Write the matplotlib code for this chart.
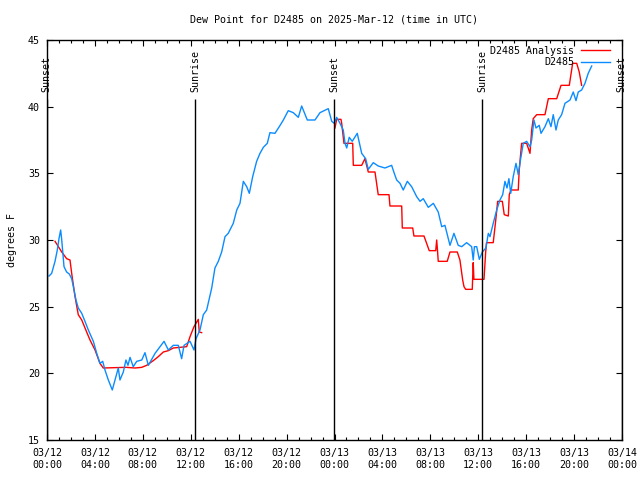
import pandas as pd
import matplotlib
matplotlib.use('Agg')
import matplotlib.pyplot as plt
import matplotlib.dates as mdates
import numpy as np

plt.rcParams['font.family'] = 'DejaVu Sans Mono'
plt.rcParams['font.size'] = 7.2

# hours after 2025-03-12 00:00 UTC, dew point in F
obs_hours = [0.17, 0.39, 0.67, 0.86, 1.00, 1.14, 1.23, 1.42, 1.64, 1.86, 2.06, 2.20, 2.42,
             2.61, 2.90, 3.17, 3.45, 3.87, 4.15, 4.42, 4.65, 4.84, 5.12, 5.45, 5.68, 5.95,
             6.09, 6.37, 6.59, 6.76, 6.93, 7.20, 7.49, 7.91, 8.18, 8.46, 9.02, 9.77, 10.13,
             10.54, 10.96, 11.24, 11.44, 11.94, 12.27, 12.44, 12.77, 13.05, 13.33, 13.75,
             14.02, 14.30, 14.58, 14.86, 15.13, 15.55, 15.84, 16.11, 16.39, 16.67, 16.89,
             17.17, 17.50, 17.78, 18.06, 18.39, 18.61, 19.03, 19.39, 19.73, 20.14, 20.56,
             20.98, 21.26, 21.73, 22.37, 22.79, 23.48, 23.77, 23.98, 24.18, 24.46, 24.73,
             24.88, 25.02, 25.23, 25.48, 25.90, 26.27, 26.60, 26.82, 27.24, 27.65, 28.21,
             28.77, 28.97, 29.19, 29.47, 29.74, 30.08, 30.44, 30.86, 31.14, 31.41, 31.83,
             32.25, 32.66, 32.95, 33.22, 33.64, 33.97, 34.33, 34.62, 35.03, 35.45, 35.58,
             35.68, 35.87, 36.09, 36.34, 36.64, 36.84, 36.98, 37.25, 37.54, 37.81, 38.04,
             38.23, 38.40, 38.56, 38.71, 38.92, 39.15, 39.34, 39.54, 39.76, 40.04, 40.32,
             40.46, 40.65, 40.82, 41.09, 41.24, 41.57, 41.85, 42.07, 42.26, 42.49, 42.68,
             42.96, 43.24, 43.66, 43.93, 44.16, 44.35, 44.63, 44.91, 45.18, 45.47]
obs_dewpt = [27.3, 27.5, 28.4, 29.25, 30.1, 30.75, 30.0, 28.0, 27.6, 27.45, 27.1, 26.5, 25.5,
             24.9, 24.5, 23.9, 23.25, 22.4, 21.5, 20.75, 20.9, 20.25, 19.5, 18.75, 19.5, 20.4,
             19.5, 20.1, 21.0, 20.6, 21.2, 20.5, 20.9, 21.0, 21.55, 20.6, 21.5, 22.4, 21.75,
             22.1, 22.1, 21.1, 22.1, 22.4, 21.75, 22.6, 23.25, 24.4, 24.75, 26.4,
             27.9, 28.4, 29.1, 30.25, 30.5, 31.25, 32.25, 32.75, 34.4, 34.0, 33.5,
             34.75, 35.9, 36.5, 36.95, 37.25, 38.05, 38.0, 38.5, 39.0, 39.7, 39.55,
             39.2, 40.05, 39.0, 39.0, 39.55, 39.85, 38.9, 38.75, 39.2, 38.75, 38.25,
             37.25, 36.9, 37.7, 37.4, 38.0, 36.5, 36.1, 35.3, 35.8, 35.55, 35.4,
             35.6, 35.05, 34.5, 34.25, 33.75, 34.4, 34.0, 33.25, 32.9, 33.1, 32.45,
             32.75, 32.1, 31.0, 31.1, 29.6, 30.5, 29.6, 29.5, 29.8, 29.5, 28.5,
             29.5, 29.5, 28.55, 29.1, 29.4, 30.5, 30.25, 31.25, 32.25, 33.0, 33.4,
             34.4, 33.9, 34.6, 33.5, 34.75, 35.75, 34.9, 36.1, 37.25, 37.4, 37.0,
             37.5, 39.0, 38.4, 38.6, 38.0, 38.5, 39.1, 38.5, 39.4, 38.25, 39.0,
             39.4, 40.25, 40.5, 41.1, 40.45, 41.1, 41.25, 41.75, 42.5, 43.05]

ana_hours = [0.67, 1.23, 1.64, 1.92, 2.06, 2.34, 2.61, 2.90, 3.31, 3.59, 4.01, 4.42, 4.70,
             6.59, 7.35, 7.91, 8.32, 8.87, 9.29, 9.71, 10.13, 10.54, 11.10, 11.66, 11.94,
             12.27, 12.63, 12.71, 12.91, 18.0,
             24.04, 24.18, 24.54, 24.60, 24.79, 25.52, 25.57, 26.27, 26.54, 26.82, 27.38,
             27.65, 28.55, 28.63, 29.61, 29.66, 30.53, 30.63, 31.47, 31.91, 32.45, 32.53,
             32.60, 32.66, 33.41, 33.64, 34.25, 34.47, 34.70, 34.81, 34.95, 35.50, 35.58,
             35.64, 36.48, 36.62, 36.69, 37.25, 37.45, 37.62, 38.01, 38.17, 38.51, 38.59,
             38.73, 39.34, 39.42, 39.62, 40.04, 40.32, 40.46, 40.59, 40.88, 41.57, 41.85,
             42.55, 42.91, 43.60, 43.88, 44.22, 44.43, 44.63]
ana_dewpt = [29.9, 29.1, 28.6, 28.5, 27.5, 25.75, 24.4, 24.0, 23.1, 22.5, 21.75, 20.75, 20.4,
             20.45, 20.4, 20.45, 20.6, 20.95, 21.25, 21.6, 21.7, 21.9, 21.95, 22.0, 22.75,
             23.5, 24.05, 23.1, 23.05, np.nan,
             38.4, 39.05, 39.05, 38.75, 37.25, 37.25, 35.6, 35.6, 36.1, 35.1, 35.1,
             33.4, 33.4, 32.55, 32.55, 30.9, 30.9, 30.3, 30.3, 29.2, 29.2, 30.0,
             29.2, 28.4, 28.4, 29.1, 29.1, 28.5, 27.0, 26.5, 26.3, 26.3, 28.3,
             27.05, 27.05, 29.1, 29.8, 29.8, 31.4, 32.9, 32.9, 31.9, 31.8, 33.4,
             33.75, 33.75, 35.25, 37.25, 37.25, 36.5, 38.25, 39.1, 39.4, 39.4, 40.6,
             40.6, 41.6, 41.6, 43.25, 43.25, 42.6, 41.6]

sun_hours = [-0.03, 12.35, 23.98, 36.34, 47.96]
sun_labels = ['Sunset', 'Sunrise', 'Sunset', 'Sunrise', 'Sunset']

base = pd.Timestamp('2025-03-12 00:00')
t_obs = base + pd.to_timedelta(obs_hours, unit='h')
t_ana = base + pd.to_timedelta(ana_hours, unit='h')
t_sun = base + pd.to_timedelta(sun_hours, unit='h')

fig = plt.figure(figsize=(6.4, 4.8), dpi=100)
ax = fig.add_axes([47 / 640, 40 / 480, 575 / 640, 400 / 480])

ax.plot(t_ana, ana_dewpt, color='red', lw=1.0)
ax.plot(t_obs, obs_dewpt, color='#0a8cff', lw=1.0)

# sunrise / sunset markers
ax.vlines(t_sun, 15, 40.57, color='black', lw=1.0)
for t, lab in zip(t_sun, sun_labels):
    ax.text(t, 41.1, lab, rotation=90, ha='center', va='bottom')

ax.set_xlim(base, base + pd.Timedelta(hours=48))
ax.set_ylim(15, 45)
ax.set_yticks(np.arange(15, 46, 5))
ax.xaxis.set_major_locator(mdates.HourLocator(byhour=range(0, 24, 4)))
ax.xaxis.set_minor_locator(mdates.HourLocator())
ax.xaxis.set_major_formatter(mdates.DateFormatter('%m/%d\n%H:%M'))
ax.tick_params(which='both', direction='in', top=True, right=True, width=0.8)
ax.tick_params(which='major', length=4.5)
ax.tick_params(which='minor', length=2.2)
ax.tick_params(axis='x', pad=6)
ax.tick_params(axis='y', pad=5)
for s in ax.spines.values():
    s.set_linewidth(1.0)

ax.set_ylabel('degrees F')
ax.yaxis.set_label_coords(-30 / 575, 0.5)

fig.text(334.5 / 640, 1 - 19 / 480, 'Dew Point for D2485 on 2025-Mar-12 (time in UTC)',
         ha='center', va='center')

# legend, gnuplot style (text then sample line)
ax.text(0.9165, 0.973, 'D2485 Analysis', transform=ax.transAxes, ha='right', va='center')
ax.plot([0.929, 0.979], [0.976, 0.976], transform=ax.transAxes, color='red', lw=1.0)
ax.text(0.9165, 0.944, 'D2485', transform=ax.transAxes, ha='right', va='center')
ax.plot([0.929, 0.979], [0.945, 0.945], transform=ax.transAxes, color='#0a8cff', lw=1.0)

fig.savefig('out.png', dpi=100)
